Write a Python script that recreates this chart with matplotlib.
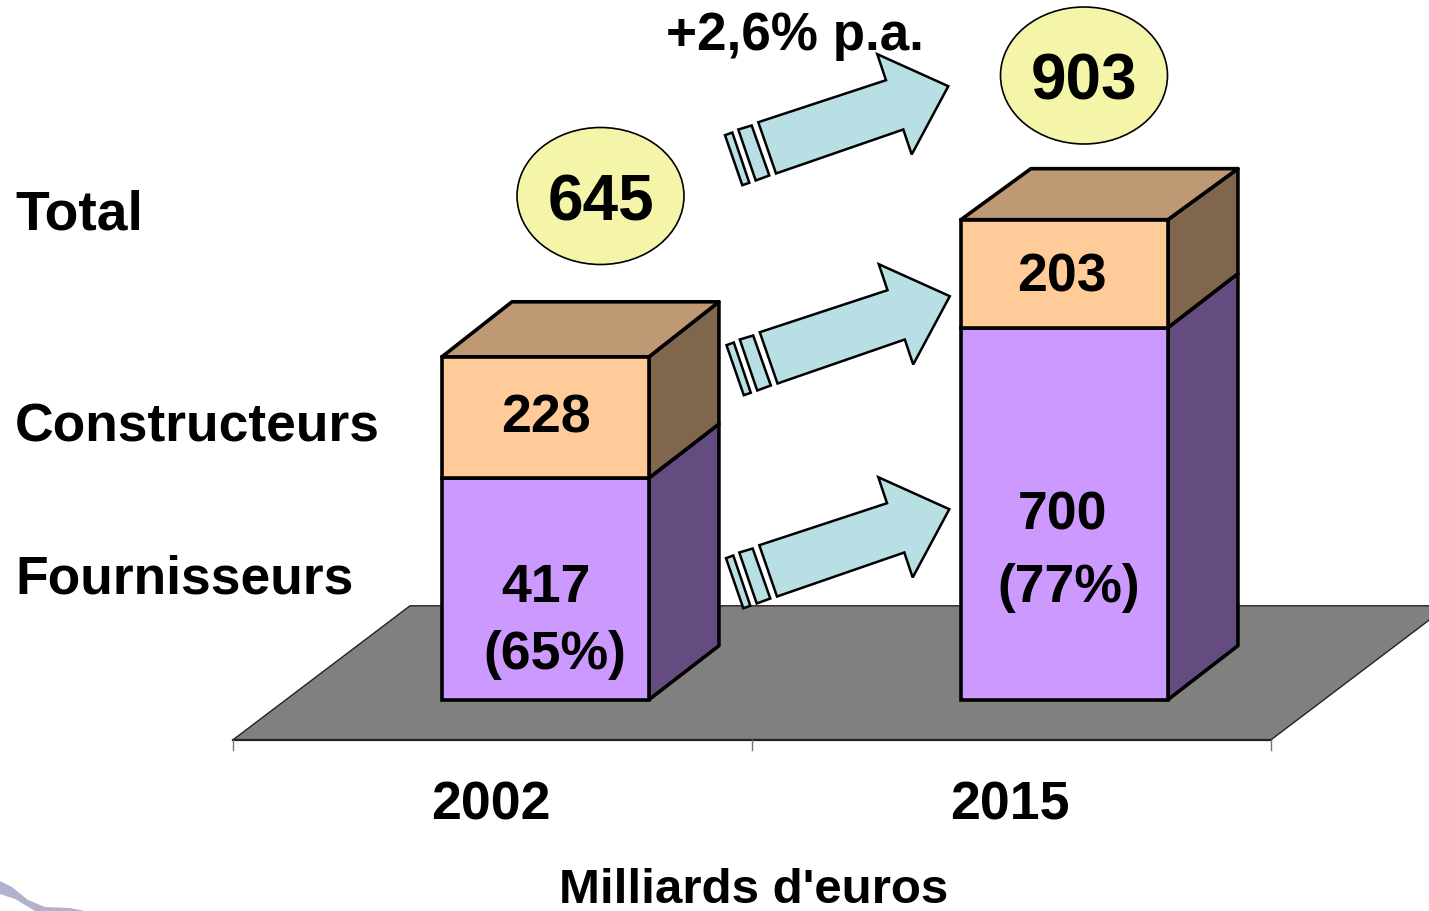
import matplotlib
matplotlib.use("Agg")
import matplotlib.pyplot as plt
from matplotlib.patches import Polygon, Ellipse

plt.rcParams["font.family"] = ["Liberation Sans", "DejaVu Sans"]
plt.rcParams["font.weight"] = "bold"

# values in milliards d'euros
years = ["2002", "2015"]
fournisseurs = [417, 700]
constructeurs = [228, 203]
totals = [645, 903]
shares = ["(65%)", "(77%)"]
series_labels = ["Total", "Constructeurs", "Fournisseurs"]

W, H = 1429, 912
X_UNIT = 519.0    # pixels per category
Y_UNIT = 0.5316   # pixels per milliard
X0_PX, Y0_PX = 492.5, 700.7
TEXT_DY = 3.5     # matplotlib centres text a bit high here

PURPLE, PURPLE_SIDE = "#CC99FF", "#654C80"
ORANGE, ORANGE_SIDE, ORANGE_TOP = "#FFCC99", "#80664D", "#BF9973"


def px(x, y):
    # picture pixel -> data coordinates
    return (x - X0_PX) / X_UNIT, (Y0_PX - y) / Y_UNIT


fig = plt.figure(figsize=(W / 100, H / 100), dpi=100)
ax = fig.add_axes([0, 0, 1, 1])
ax.set_xlim(px(0, 0)[0], px(W, 0)[0])
ax.set_ylim(px(0, H)[1], px(0, 0)[1])
ax.axis("off")


def label(x, y, s, size=38.6, ha="center"):
    ax.text(*px(x, y + TEXT_DY), s, fontsize=size, ha=ha, va="center", zorder=6)


# floor of the 3d chart
floor_pts = [px(233, 740.8), px(1271, 740.8), px(1448, 606.8), px(410, 606.8)]
ax.add_patch(Polygon(floor_pts, closed=True, fc="#808080", ec="#222222", lw=1.0, zorder=1))
ax.plot([floor_pts[0][0], floor_pts[1][0]], [floor_pts[0][1]] * 2, color="#222222", lw=1.6, zorder=1)
for tick in [-0.5, 0.5, 1.5]:
    ax.plot([tick, tick], [px(0, 740.8)[1], px(0, 751)[1]], color="#777777", lw=1.0, zorder=1)

# bars
bar_x = [i + 0.102 for i in range(len(years))]
bar_w = 207 / X_UNIT
depth_x, depth_y = 70 / X_UNIT, 54 / Y_UNIT
top_depth_y = [55 / Y_UNIT, 51 / Y_UNIT]  # the picture is not quite even here
edge = dict(ec="black", lw=2.6, joinstyle="round")


def side(x, y0, y1, d0, d1, color, z):
    r = x + bar_w / 2
    pts = [(r, y0), (r + depth_x, y0 + d0), (r + depth_x, y1 + d1), (r, y1)]
    ax.add_patch(Polygon(pts, closed=True, fc=color, zorder=z, **edge))


for i, x in enumerate(bar_x):
    f, c = fournisseurs[i], constructeurs[i]
    l, r = x - bar_w / 2, x + bar_w / 2
    d = top_depth_y[i]
    side(x, 0, f, depth_y, depth_y, PURPLE_SIDE, 3)
    side(x, f, f + c, depth_y, d, ORANGE_SIDE, 3)
    top = [(l, f + c), (r, f + c), (r + depth_x, f + c + d), (l + depth_x, f + c + d)]
    ax.add_patch(Polygon(top, closed=True, fc=ORANGE_TOP, zorder=3, **edge))
    ax.bar(x, f, width=bar_w, color=PURPLE, zorder=4, edgecolor="black", linewidth=2.6)
    ax.bar(x, c, bottom=f, width=bar_w, color=ORANGE, zorder=4, edgecolor="black", linewidth=2.6)

# growth arrows, outline taken from the top one
arrow_body = [(758.3, 122.7), (886, 80.7), (877.3, 54.7), (948.3, 86.7), (911.7, 155), (903.3, 130), (776, 174)]
stripe_a = [(738.3, 130), (751.7, 126), (769.3, 176), (755.7, 181)]
stripe_b = [(725, 135.7), (732.3, 133), (749.3, 183.3), (742.3, 185.7)]
arrow_offsets = [(0, 0.5), (1.5, 210.5), (1, 423.5)]
for dx, dy in arrow_offsets:
    for shape in [arrow_body, stripe_a, stripe_b]:
        pts = [px(a + dx, b + dy) for a, b in shape]
        ax.add_patch(Polygon(pts, closed=True, fc="#B8DFE3", ec="black", lw=1.8, zorder=5))

# total bubbles
bubble_centres = [(600.5, 197), (1084, 76.5)]
for (cx, cy), total in zip(bubble_centres, totals):
    ax.add_patch(Ellipse(px(cx, cy), 167 / X_UNIT, 137 / Y_UNIT, fc="#F5F5AA", ec="black", lw=1.2, zorder=5))
    label(cx, cy + 3, str(total), size=46)

# value labels on the bars
f_pos = [(546, 585), (1062, 512)]
share_pos = [(555, 652), (1069, 585)]
c_pos = [(546, 415), (1062, 274)]
year_x = [491, 1010]
for i in range(len(years)):
    label(*f_pos[i], str(fournisseurs[i]))
    label(*share_pos[i], shares[i])
    label(*c_pos[i], str(constructeurs[i]))
    label(year_x[i], 802, years[i])

label_y = [212, 424, 576]
label_size = [39.8, 38.4, 38.4]
for name, y, size in zip(series_labels, label_y, label_size):
    label(15, y, name, size=size, ha="left")

label(795, 33, "+2,6% p.a.", size=38.2)
label(754, 887, "Milliards d'euros", size=35.5)

# bit of logo swoosh cut off in the corner
swoosh = [(0, 882), (12, 888), (28, 901), (45, 908), (70, 909), (85, 912), (35, 912), (15, 900), (0, 895)]
ax.add_patch(Polygon([px(a, b) for a, b in swoosh], closed=True, fc="#B2B2CC", ec="none", zorder=2))

fig.savefig("out.png", dpi=100)
